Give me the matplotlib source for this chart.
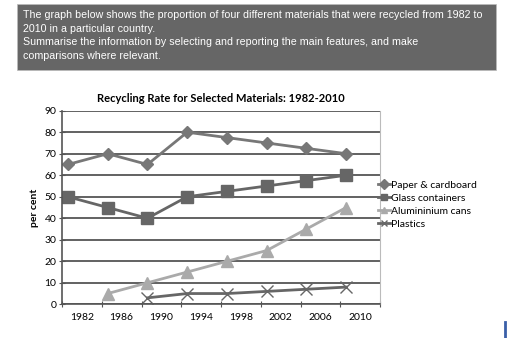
import numpy as np
import matplotlib.pyplot as plt
from matplotlib.patches import Rectangle
from matplotlib.lines import Line2D

# --------------------------------------------------------------------
YEARS = ["1982", "1986", "1990", "1994", "1998", "2002", "2006", "2010"]
PAPER = [65, 70, 65, 80, 77.5, 75, 72.5, 70]
GLASS = [50, 45, 40, 50, 52.5, 55, 57.5, 60]
ALUMINIUM = [None, 5, 10, 15, 20, 25, 35, 45]
PLASTICS = [None, None, 3, 5, 5, 6, 7, 8]
LABELS = ["Paper & cardboard", "Glass containers", "Alumininium cans", "Plastics"]
PROMPT = ("The graph below shows the proportion of four different materials that were recycled from 1982 to\n"
          "2010 in a particular country.\n"
          "Summarise the information by selecting and reporting the main features, and make\n"
          "comparisons where relevant.")
FONT = ["Lato", "DejaVu Sans"]
# --------------------------------------------------------------------

def series(values):
    x = np.arange(len(values)) + 0.15
    y = np.array([np.nan if v is None else v for v in values], dtype=float)
    return x, y

fig = plt.figure(figsize=(5.12, 3.38), dpi=100)

# prompt box
fig.patches.append(Rectangle((17 / 512, 1 - 70 / 338), 479 / 512, 66 / 338,
                             transform=fig.transFigure, facecolor="#666666",
                             edgecolor="#bbbbbb", linewidth=0.5))
fig.text(23 / 512, 1 - 10 / 338, PROMPT, color="white", fontsize=7.68,
         family=["Liberation Sans", "DejaVu Sans"], va="top", linespacing=1.45)

ax = fig.add_axes([62 / 512, 1 - 304.3 / 338, 318 / 512, 193.6 / 338])

styles = [
    dict(color="#777777", marker="D", markersize=6),
    dict(color="#666666", marker="s", markersize=8),
    dict(color="#aaaaaa", marker="^", markersize=8),
    dict(color="#666666", marker="x", markersize=8, markeredgewidth=1),
]
for vals, lab, st in zip([PAPER, GLASS, ALUMINIUM, PLASTICS], LABELS, styles):
    x, y = series(vals)
    ax.plot(x, y, linewidth=2, label=lab, **st)

ax.set_xlim(0, len(YEARS))
ax.set_ylim(0, 90)
ax.set_yticks(np.arange(0, 91, 10))
ax.yaxis.grid(True, color="#555555", linewidth=1.3)
ax.set_axisbelow(True)

ax.set_xticks(np.arange(len(YEARS) + 1))
ax.set_xticklabels([])
ax.set_xticks(np.arange(len(YEARS)) + 0.5, minor=True)
ax.set_xticklabels(YEARS, minor=True, family=FONT, fontsize=7.5)
ax.tick_params(axis="x", which="minor", length=0, pad=6)
ax.tick_params(axis="x", which="major", length=4, direction="inout", color="#555555")
ax.tick_params(axis="y", length=4, direction="inout", color="#555555", labelsize=7.5, pad=2)
for lbl in ax.get_yticklabels():
    lbl.set_family(FONT)

ax.spines["top"].set_visible(False)
ax.spines["right"].set_color("#bbbbbb")
ax.spines["left"].set_color("#555555")
ax.spines["bottom"].set_color("#555555")
ax.spines["left"].set_linewidth(1.2)
ax.spines["bottom"].set_linewidth(1.2)

ax.set_title("Recycling Rate for Selected Materials: 1982-2010", family=FONT,
             fontsize=8, fontweight="bold", pad=6)
ax.set_ylabel("per cent", family=FONT, fontsize=7.5, fontweight="bold", labelpad=4)

leg = ax.legend(loc="center left", bbox_to_anchor=(0.98, 0.515), frameon=False,
                prop={"family": FONT, "size": 7.5}, handlelength=1.2,
                handletextpad=0.1, labelspacing=0.35, borderaxespad=0)
for h in leg.legend_handles:
    h.set_markersize(5)

# cursor mark at the right edge
fig.add_artist(Line2D([505 / 512, 505 / 512], [0, 16 / 338], transform=fig.transFigure,
                      color="#3a5fa8", linewidth=2))

plt.savefig("out.png", dpi=100)
